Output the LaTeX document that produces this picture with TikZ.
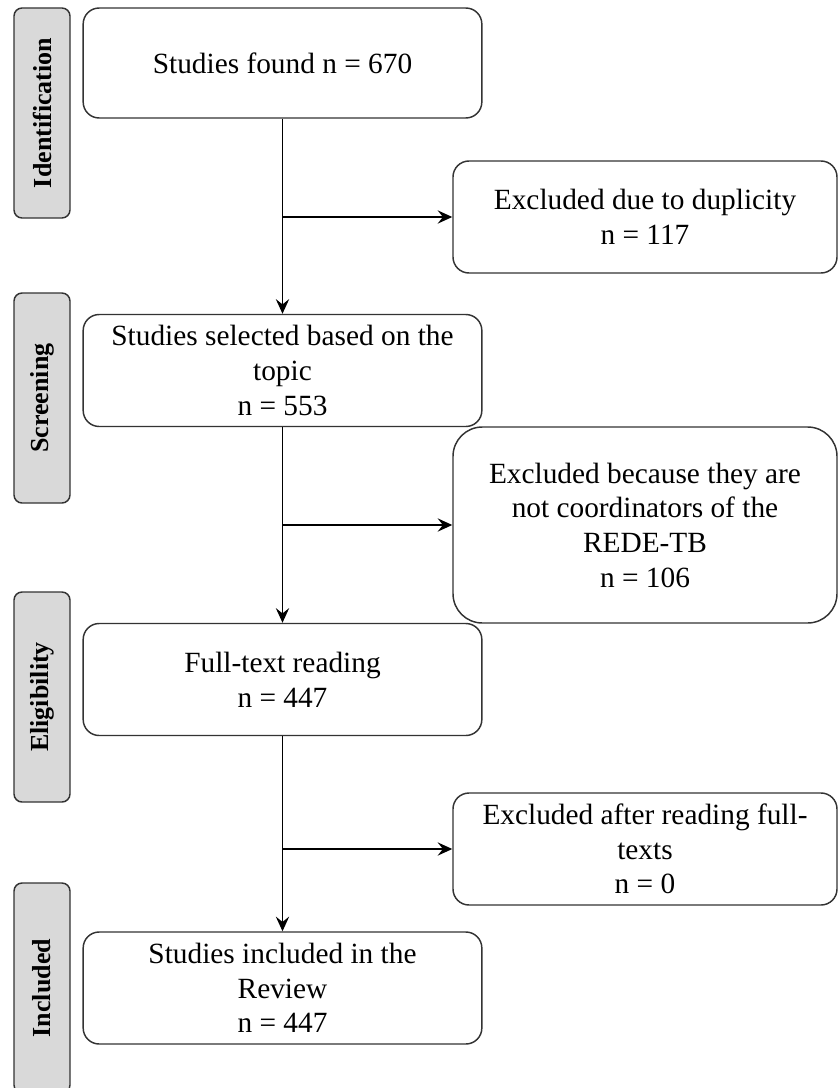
\documentclass[tikz,border=0pt]{standalone}
\usepackage{fontspec}
\setmainfont{Liberation Serif}
\usetikzlibrary{positioning,arrows.meta}

\tikzset{
  stagebox/.style={draw=black!80, line width=1.1pt, fill=black!15, rounded corners=6pt,
    minimum width=42pt, minimum height=157.5pt, inner sep=0pt,
    font=\fontsize{19.5}{22}\selectfont\bfseries},
  mainbox/.style={draw=black!80, line width=1.1pt, rounded corners=12pt, align=center,
    minimum width=299pt, minimum height=84pt, inner sep=2pt,
    font=\fontsize{22}{26}\selectfont},
  exbox/.style={mainbox, minimum width=288pt},
  flow/.style={line width=1.1pt, -{Stealth[length=11pt,width=10pt,inset=4pt]}}
}

\begin{document}
\begin{tikzpicture}[x=0.75pt,y=-0.75pt]
			\useasboundingbox (0,0) rectangle (839,1088);
			% stages
			\node[stagebox] (ident) at (42,113) {\rotatebox{90}{Identification}};
			\node[stagebox] (screen) at (42,398) {\rotatebox{90}{Screening}};
			\node[stagebox] (elig) at (42,697) {\rotatebox{90}{Eligibility}};
			\node[stagebox] (incl) at (42,988) {\rotatebox{90}{Included}};

			\node[mainbox, minimum height=82.5pt] (found) at (282.5,63) {Studies found n = 670};
			\node[mainbox] (topic) at (282.5,370.5) {Studies selected based on the\\topic\\n = 553};
			\node[mainbox] (fulltext) at (282.5,679.5) {Full-text reading\\n = 447};
			\node[mainbox] (review) at (282.5,988) {Studies included in the\\Review\\n = 447};

			\node[exbox] (dup) at (645,217) {Excluded due to duplicity\\n = 117};
			\node[exbox, minimum height=147pt, rounded corners=22pt] (coord) at (645,525)
			  {Excluded because they are\\not coordinators of the\\REDE-TB\\n = 106};
			\node[exbox] (after) at (645,849) {Excluded after reading full-\\texts\\n = 0};

			\begin{scope}[flow]
			\draw (found) -- (topic);
			\draw (topic) -- (fulltext);
			\draw (fulltext) -- (review);
			\draw (found.south |- dup.west) -- (dup);
			\draw (topic.south |- coord.west) -- (coord);
			\draw (fulltext.south |- after.west) -- (after);
			\end{scope}
\end{tikzpicture}
\end{document}
